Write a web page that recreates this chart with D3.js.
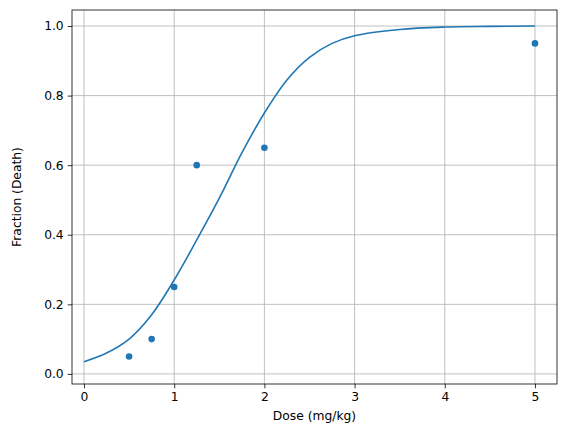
<!DOCTYPE html>
<html><head><meta charset="utf-8">
<script src="https://cdn.jsdelivr.net/npm/d3@7"></script>
<style>body{margin:0;background:#fff}text{font-family:"DejaVu Sans",sans-serif}</style>
</head><body>
<div id="chart"></div>
<script>
// observed data
const doses = [0.5, 0.75, 1.0, 1.25, 2.0, 5.0];
const fractions = [0.05, 0.10, 0.25, 0.60, 0.65, 0.95];
// fitted curve
const curveX = [0, 0.25, 0.5, 0.75, 1.0, 1.25, 1.5, 1.75, 2.0, 2.25, 2.5, 2.75, 3.0, 3.5, 4.0, 4.5, 5.0];
const curveY = [0.035, 0.06, 0.1, 0.17, 0.27, 0.385, 0.505, 0.635, 0.75, 0.845, 0.91, 0.95, 0.972, 0.99, 0.997, 0.999, 1.0];
const xTicks = [0, 1, 2, 3, 4, 5];
const yTicks = [0.0, 0.2, 0.4, 0.6, 0.8, 1.0];

const width = 567, height = 432;
const m = {left: 72, right: 10, top: 10, bottom: 48};
const fs = 12.3;

const svg = d3.select("#chart").append("svg")
  .attr("width", width).attr("height", height);

const x = d3.scaleLinear().domain([-0.133, 5.244]).range([m.left, width - m.right]);
const y = d3.scaleLinear().domain([-0.029, 1.046]).range([height - m.bottom, m.top]);

// grid
svg.append("g").selectAll("line").data(xTicks).enter().append("line")
  .attr("x1", d => x(d)).attr("x2", d => x(d))
  .attr("y1", m.top).attr("y2", height - m.bottom)
  .attr("stroke", "#b0b0b0").attr("stroke-width", 0.8);
svg.append("g").selectAll("line").data(yTicks).enter().append("line")
  .attr("y1", d => y(d)).attr("y2", d => y(d))
  .attr("x1", m.left).attr("x2", width - m.right)
  .attr("stroke", "#b0b0b0").attr("stroke-width", 0.8);

// axes
const xAxis = svg.append("g").attr("transform", `translate(0,${height - m.bottom})`)
  .call(d3.axisBottom(x).tickValues(xTicks).tickFormat(d3.format("d")).tickSize(4.3).tickPadding(4));
const yAxis = svg.append("g").attr("transform", `translate(${m.left},0)`)
  .call(d3.axisLeft(y).tickValues(yTicks).tickFormat(d3.format(".1f")).tickSize(4.3).tickPadding(4));
[xAxis, yAxis].forEach(a => {
  a.select(".domain").remove();
  a.selectAll("text").attr("font-size", fs).attr("fill", "#000").style("font-family", "DejaVu Sans");
  a.selectAll("line").attr("stroke", "#000").attr("stroke-width", 0.8);
});

svg.append("rect").attr("x", m.left).attr("y", m.top)
  .attr("width", width - m.left - m.right).attr("height", height - m.top - m.bottom)
  .attr("fill", "none").attr("stroke", "#000").attr("stroke-width", 0.8);

// curve
const line = d3.line().x((d, i) => x(curveX[i])).y(d => y(d)).curve(d3.curveCatmullRom);
svg.append("path").datum(curveY).attr("d", line)
  .attr("fill", "none").attr("stroke", "#1f77b4").attr("stroke-width", 1.6);

// points
svg.append("g").selectAll("circle").data(doses).enter().append("circle")
  .attr("cx", d => x(d)).attr("cy", (d, i) => y(fractions[i]))
  .attr("r", 3.3).attr("fill", "#1f77b4");

// labels
svg.append("text").attr("x", (m.left + width - m.right) / 2).attr("y", height - 12)
  .attr("text-anchor", "middle").attr("font-size", fs).text("Dose (mg/kg)");
svg.append("text").attr("transform", `translate(21,${(m.top + height - m.bottom) / 2}) rotate(-90)`)
  .attr("text-anchor", "middle").attr("font-size", fs).text("Fraction (Death)");
</script>
</body></html>
